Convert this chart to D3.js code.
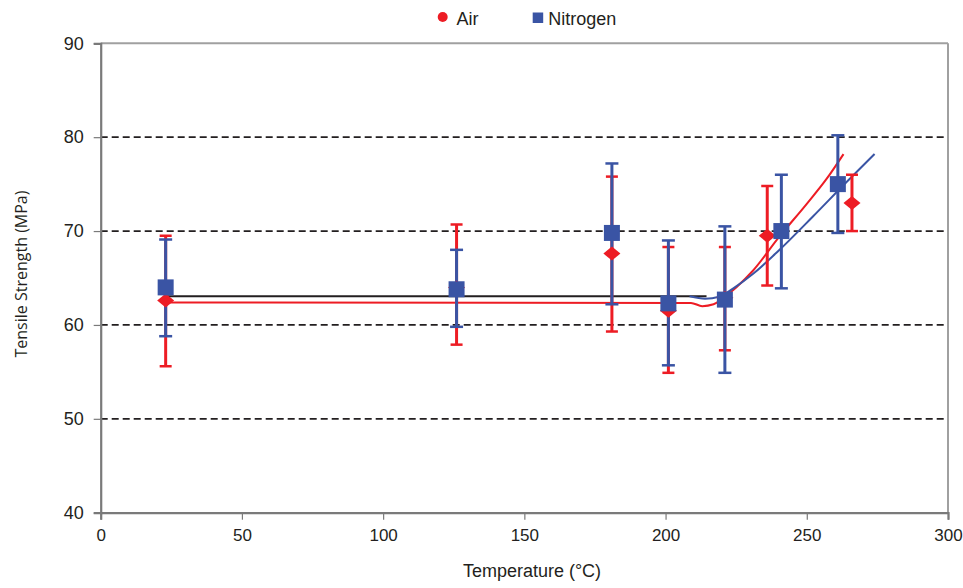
<!DOCTYPE html>
<html>
<head>
<meta charset="utf-8">
<script src="https://cdn.jsdelivr.net/npm/d3@7"></script>
<style>
  body { margin: 0; background: #fff; }
  svg { display: block; }
</style>
</head>
<body>
<div id="chart"></div>
<script>
// Air (red diamonds)
const airTemp = [23, 126, 181, 201, 221, 236, 266];
const airMean = [62.6, 64.0, 67.6, 61.5, 62.9, 69.5, 73.0];
const airLow  = [55.6, 57.9, 59.3, 54.9, 57.3, 64.2, 70.0];
const airHigh = [69.5, 70.7, 75.8, 68.3, 68.3, 74.8, 76.0];

// Nitrogen (blue squares)
const n2Temp = [23, 126, 181, 201, 221, 241, 261];
const n2Mean = [64.0, 63.8, 69.8, 62.3, 62.7, 70.0, 75.0];
const n2Low  = [58.8, 59.8, 62.2, 55.7, 54.9, 63.9, 69.8];
const n2High = [69.1, 68.0, 77.2, 69.0, 70.5, 76.0, 80.2];

// fitted trend lines
const blackFit = [[23, 63.05], [214.5, 63.05]];
const airFit = [[23, 62.4], [209, 62.35], [213, 62.0], [217, 62.2], [220, 62.8], [225, 64.0],
  [231, 65.8], [240, 69.3], [250, 72.9], [257, 75.55], [263, 78.2]];
const n2Fit = [[208.5, 63.05], [214, 62.8], [219, 63.0], [224, 63.9], [231, 65.45],
  [240, 67.9], [252, 71.5], [264, 75.2], [274, 78.2]];

const xTicks = [0, 50, 100, 150, 200, 250, 300];
const yTicks = [40, 50, 60, 70, 80, 90];
const gridTicks = [50, 60, 70, 80];

const RED = '#ed1c24';
const BLUE = '#3a54a4';
const FONT = "'Liberation Sans', Arial, sans-serif";

const W = 963, H = 588;
const margin = { top: 43.3, right: 15, bottom: 75.3, left: 100.7 };
const width = W - margin.left - margin.right;
const height = H - margin.top - margin.bottom;

const svg = d3.select('#chart').append('svg')
  .attr('width', W)
  .attr('height', H);

const g = svg.append('g')
  .attr('transform', `translate(${margin.left},${margin.top})`);

const x = d3.scaleLinear().domain([0, 300]).range([0, width]);
const y = d3.scaleLinear().domain([40, 90]).range([height, 0]);

// Grid lines (dashed)
g.selectAll('.grid')
  .data(gridTicks)
  .enter()
  .append('line')
  .attr('x1', 0).attr('x2', width)
  .attr('y1', d => y(d)).attr('y2', d => y(d))
  .attr('stroke', '#231f20')
  .attr('stroke-width', 1.8)
  .attr('stroke-dasharray', '7,4');

// Frame top and right
g.append('line').attr('x1', 0).attr('x2', width).attr('y1', 0).attr('y2', 0)
  .attr('stroke', '#a0a0a0').attr('stroke-width', 2);
g.append('line').attr('x1', width).attr('x2', width).attr('y1', 0).attr('y2', height)
  .attr('stroke', '#a0a0a0').attr('stroke-width', 2);

// Axes
const xAxis = g.append('g')
  .attr('transform', `translate(0,${height})`)
  .call(d3.axisBottom(x).tickValues(xTicks).tickSize(7).tickPadding(9));
const yAxis = g.append('g')
  .call(d3.axisLeft(y).tickValues(yTicks).tickSize(7).tickPadding(10));

[xAxis, yAxis].forEach(a => {
  a.select('.domain').attr('stroke', '#7a7a7a').attr('stroke-width', 2.2);
  a.selectAll('.tick line').attr('stroke', '#7a7a7a').attr('stroke-width', 1.2);
  a.selectAll('text')
    .style('font-family', FONT)
    .style('fill', '#231f20');
});
xAxis.selectAll('text').style('font-size', '17px');
yAxis.selectAll('text').style('font-size', '18px');

// Axis titles
svg.append('text')
  .attr('x', 532)
  .attr('y', 577)
  .attr('text-anchor', 'middle')
  .style('font-family', FONT)
  .style('font-size', '18px')
  .style('fill', '#231f20')
  .text('Temperature (°C)');

svg.append('text')
  .attr('transform', 'translate(27,274) rotate(-90)')
  .attr('text-anchor', 'middle')
  .style('font-family', "'Open Sans', sans-serif")
  .style('font-size', '16px')
  .style('fill', '#231f20')
  .text('Tensile Strength (MPa)');

// Trend lines
const line = d3.line()
  .x(d => x(d[0]))
  .y(d => y(d[1]))
  .curve(d3.curveMonotoneX);

g.append('path').datum(blackFit).attr('d', line)
  .attr('fill', 'none').attr('stroke', '#231f20').attr('stroke-width', 2);
g.append('path').datum(airFit).attr('d', line)
  .attr('fill', 'none').attr('stroke', RED).attr('stroke-width', 2);
g.append('path').datum(n2Fit).attr('d', line)
  .attr('fill', 'none').attr('stroke', BLUE).attr('stroke-width', 2);

// Error bars
function errorBars(temps, lows, highs, color, cap) {
  const eb = g.append('g');
  temps.forEach((t, i) => {
    const cx = x(t);
    eb.append('line')
      .attr('x1', cx).attr('x2', cx)
      .attr('y1', y(lows[i])).attr('y2', y(highs[i]))
      .attr('stroke', color).attr('stroke-width', 3);
    [lows[i], highs[i]].forEach(v => {
      eb.append('line')
        .attr('x1', cx - cap / 2).attr('x2', cx + cap / 2)
        .attr('y1', y(v)).attr('y2', y(v))
        .attr('stroke', color).attr('stroke-width', 2.5);
    });
  });
}
errorBars(airTemp, airLow, airHigh, RED, 12);
errorBars(n2Temp, n2Low, n2High, BLUE, 13);

// Markers
g.selectAll('.air')
  .data(airMean)
  .enter()
  .append('path')
  .attr('d', 'M0,-7L8.5,0L0,7L-8.5,0Z')
  .attr('transform', (d, i) => `translate(${x(airTemp[i])},${y(d)})`)
  .attr('fill', RED);

g.selectAll('.n2')
  .data(n2Mean)
  .enter()
  .append('rect')
  .attr('x', (d, i) => x(n2Temp[i]) - 8)
  .attr('y', d => y(d) - 8)
  .attr('width', 16)
  .attr('height', 16)
  .attr('fill', BLUE);

// Legend
const legend = svg.append('g')
  .style('font-family', FONT)
  .style('font-size', '18px')
  .style('fill', '#231f20');
legend.append('circle').attr('cx', 442.7).attr('cy', 17).attr('r', 5).attr('fill', RED);
legend.append('text').attr('x', 456.5).attr('y', 24.5).text('Air');
legend.append('rect').attr('x', 532.7).attr('y', 12.5).attr('width', 10.5).attr('height', 10.5).attr('fill', BLUE);
legend.append('text').attr('x', 548.3).attr('y', 24.5).text('Nitrogen');
</script>
</body>
</html>
